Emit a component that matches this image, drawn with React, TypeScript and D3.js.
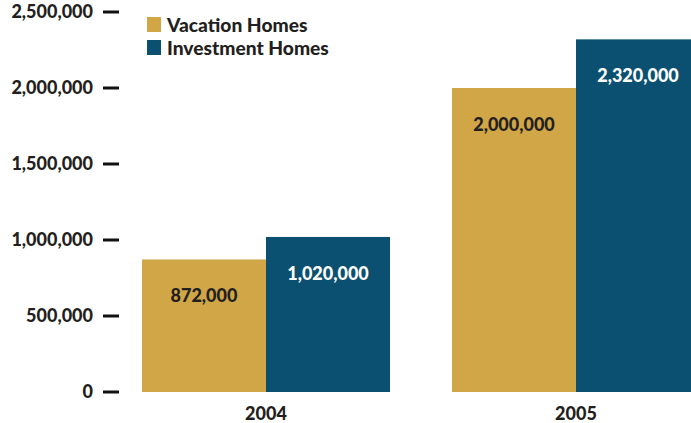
import React from "react";
import * as d3 from "d3";

const years = ["2004", "2005"];
const seriesNames = ["Vacation Homes", "Investment Homes"];
const vacationValues = [872000, 2000000];
const investmentValues = [1020000, 2320000];
const tickValues = [0, 500000, 1000000, 1500000, 2000000, 2500000];

const W = 691;
const H = 423;
const colors = ["#D1A646", "#0B5070"];
const labelColors = ["#231F20", "#FFFFFF"];
const FONT = "Lato, 'Open Sans', sans-serif";

export default function App() {
  const y = d3.scaleLinear().domain([0, 2500000]).range([392, 12]);
  const x0 = d3.scaleBand<string>().domain(years).range([142, 700]).paddingInner(0.2).paddingOuter(0);
  const x1 = d3.scaleBand<string>().domain(seriesNames).range([0, x0.bandwidth()]).padding(0);
  const fmt = d3.format(",");
  const seriesValues = [vacationValues, investmentValues];

  return (
    <svg
      width={W}
      height={H}
      style={{ position: "absolute", left: 0, top: 0, background: "#fff" }}
      fontFamily={FONT}
      fontWeight={900}
    >
      {/* y axis ticks and labels */}
      {tickValues.map((t) => (
        <g key={t} transform={`translate(0,${y(t)})`}>
          <line x1={103} x2={119} y1={0} y2={0} stroke="#111" strokeWidth={3} />
          <text x={93} y={0} dy="0.35em" textAnchor="end" fontSize={18} fill="#231F20">
            {fmt(t)}
          </text>
        </g>
      ))}

      {/* bars */}
      {years.map((yr, i) => (
        <g key={yr} transform={`translate(${x0(yr)},0)`}>
          {seriesNames.map((s, j) => {
            const v = seriesValues[j][i];
            const bx = x1(s)!;
            return (
              <g key={s}>
                <rect x={bx} y={y(v)} width={x1.bandwidth()} height={y(0) - y(v)} fill={colors[j]} />
                <text
                  x={bx + x1.bandwidth() / 2}
                  y={y(v) + 43}
                  textAnchor="middle"
                  fontSize={18}
                  fill={labelColors[j]}
                >
                  {fmt(v)}
                </text>
              </g>
            );
          })}
          <text x={x0.bandwidth() / 2} y={420} textAnchor="middle" fontSize={18} fill="#231F20">
            {yr}
          </text>
        </g>
      ))}

      {/* legend */}
      {seriesNames.map((s, j) => (
        <g key={s} transform={`translate(147,${17 + j * 23})`}>
          <rect x={0} y={0} width={14} height={15} fill={colors[j]} />
          <text x={20} y={14.5} fontSize={19.2} fill="#231F20">
            {s}
          </text>
        </g>
      ))}
    </svg>
  );
}
